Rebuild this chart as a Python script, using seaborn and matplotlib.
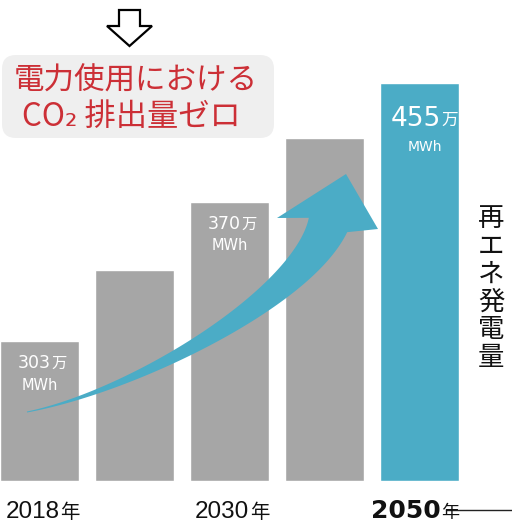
import numpy as np
import matplotlib
matplotlib.use("Agg")
import matplotlib.pyplot as plt
from matplotlib.patches import FancyBboxPatch, Polygon
import seaborn as sns

# ---- data ----
categories = ["2018年", "中間1", "2030年", "中間2", "2050年"]
bar_heights = [140, 211, 279, 343, 398]          # relative bar heights as drawn
tick_labels = ["2018年", "", "2030年", "", "2050年"]
value_numbers = ["303", "", "370", "", "455"]
value_units = ["万", "", "万", "", "万"]
value_sub = ["MWh", "", "MWh", "", "MWh"]
bar_colors = ["#a6a6a6", "#a6a6a6", "#a6a6a6", "#a6a6a6", "#4bacc6"]
title_lines = ["電力使用における", "CO₂ 排出量ゼロ"]
side_label = "再エネ発電量"

sns.set_theme(style="white")
JP = ["Noto Sans CJK JP", "DejaVu Sans"]
NUM = ["DejaVu Sans"]
plt.rcParams["font.family"] = JP

W, H = 512, 526
fig = plt.figure(figsize=(W / 100, H / 100), dpi=100)
fig.patch.set_facecolor("white")

# main bar axes: bottom at pixel 481
base_px = 481
ax = fig.add_axes([0, (H - base_px) / H, 1, base_px / H])
sns.barplot(x=categories, y=bar_heights, hue=categories, palette=bar_colors,
            width=0.83, saturation=1, legend=False, ax=ax)
ax.set_xlim(-39.5 / 95, (W - 39.5) / 95)
ax.set_ylim(0, base_px)
ax.axis("off")

# overlay in pixel coordinates
ov = fig.add_axes([0, 0, 1, 1], zorder=5)
ov.set_xlim(0, W)
ov.set_ylim(H, 0)
ov.axis("off")
ov.patch.set_alpha(0)

def px_x(i):
    return 39.5 + 95 * i

# value labels
for i in range(len(categories)):
    if not value_numbers[i]:
        continue
    cx = px_x(i)
    top = base_px - bar_heights[i]
    if i == 4:
        ov.text(cx + 21, top + 43, value_numbers[i], color="white", fontsize=19,
                ha="right", va="baseline", family=NUM)
        ov.text(cx + 22, top + 42, value_units[i], color="white", fontsize=12,
                ha="left", va="baseline", family=JP)
        ov.text(cx + 5, top + 64, value_sub[i], color="white", fontsize=10,
                ha="center", va="center", family=NUM)
    else:
        ov.text(cx + 11, top + 27, value_numbers[i], color="white",
                fontsize=12.5, ha="right", va="baseline", family=NUM)
        ov.text(cx + 12, top + 27, value_units[i], color="white",
                fontsize=11, ha="left", va="baseline", family=JP)
        ov.text(cx, top + 44, value_sub[i], color="white", fontsize=10.5,
                ha="center", va="center", family=NUM)

# bottom year labels
for i, lab in enumerate(tick_labels):
    if not lab:
        continue
    num, unit = lab[:-1], lab[-1]
    cx = px_x(i)
    if i == 4:
        ov.text(cx + 21, 518, num, fontsize=18, fontweight="bold", ha="right",
                va="baseline", family=NUM, color="#111111")
        ov.text(cx + 22, 518, unit, fontsize=13, ha="left", va="baseline",
                family=JP, color="#111111")
        ov.plot([cx + 26, W], [510, 510], color="#222222", lw=1.0)
    else:
        ov.text(cx + 20, 518, num, fontsize=17.5, ha="right", va="baseline",
                family=["Liberation Sans", "DejaVu Sans"], color="#111111")
        ov.text(cx + 21, 518, unit, fontsize=14, ha="left", va="baseline",
                family=JP, color="#111111")

# title box
box = FancyBboxPatch((2, 55), 272, 83, boxstyle="round,pad=0,rounding_size=14",
                     facecolor="#efefef", edgecolor="none")
ov.add_patch(box)
ov.text(136, 81, title_lines[0], color="#cc2f36", fontsize=22, ha="center",
        va="center", family=JP)
ov.text(131, 117, title_lines[1], color="#cc2f36", fontsize=22.5, ha="center",
        va="center", family=JP)

# hollow down arrow
down = Polygon([(119, 10), (140, 10), (140, 26), (152, 26), (129.5, 46),
                (107, 26), (119, 26)], closed=True, facecolor="white",
               edgecolor="black", lw=1.6, joinstyle="miter")
ov.add_patch(down)

# side vertical label
ov.text(491, 288, "\n".join(side_label), fontsize=19, ha="center", va="center",
        linespacing=1.04, family=JP, color="#111111")

# curved tapering arrow
P0, P1, P2, P3 = map(np.array, [(27, 412), (130, 392), (300, 300), (328, 225)])
t = np.linspace(0, 1, 120)[:, None]
c = (1 - t) ** 3 * P0 + 3 * (1 - t) ** 2 * t * P1 + 3 * (1 - t) * t ** 2 * P2 + t ** 3 * P3
d = 3 * (1 - t) ** 2 * (P1 - P0) + 6 * (1 - t) * t * (P2 - P1) + 3 * t ** 2 * (P3 - P2)
d = d / np.linalg.norm(d, axis=1, keepdims=True)
n = np.column_stack([-d[:, 1], d[:, 0]])
w = 1 + 40 * t[:, 0] ** 1.5
right = c + n * (w[:, None] / 2)
left = c - n * (w[:, None] / 2)
head = np.array([(378, 229), (346, 174), (277, 218)])
pts = np.vstack([right, head, left[::-1]])
ov.add_patch(Polygon(pts, closed=True, facecolor="#4bacc6", edgecolor="none"))

fig.savefig("out.png", dpi=100, facecolor="white")
